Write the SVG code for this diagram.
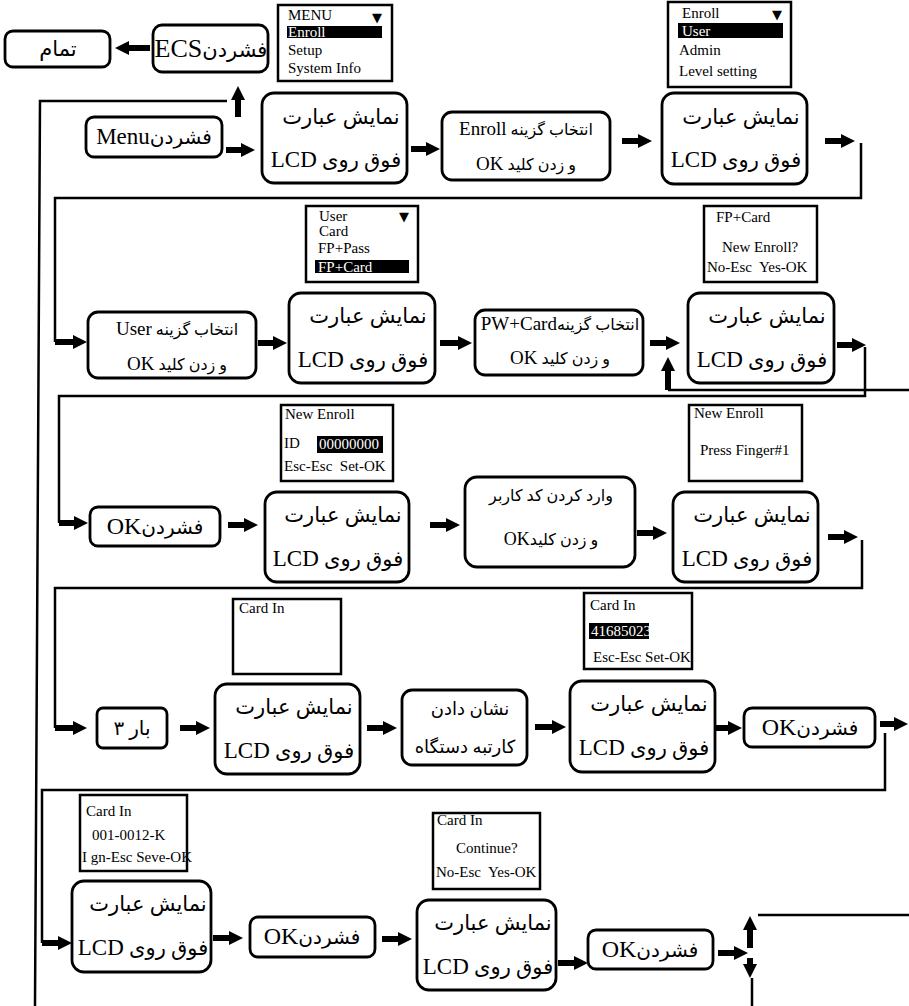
<svg xmlns="http://www.w3.org/2000/svg" width="909" height="1006" viewBox="0 0 909 1006">
<style>
.bx{fill:#fff;stroke:#000;stroke-width:2.8}
.sc{fill:#fff;stroke:#000;stroke-width:2.5}
.hl{fill:#000}
.ln{fill:none;stroke:#000;stroke-width:2.5}
.ar{fill:none;stroke:#000;stroke-width:6;marker-end:url(#ah)}
.fa{font-family:"Liberation Serif","DejaVu Sans",serif;direction:rtl;text-anchor:middle;fill:#000}
.big{font-size:21px}
.mid{font-size:16px}
.lt{font-size:19px}
.lc{font-family:"Liberation Serif",serif;font-size:15px;fill:#000}
.w{fill:#fff}
.tri{font-family:"DejaVu Sans",sans-serif;font-size:13px;fill:#000}
</style>
<defs>
<marker id="ah" markerUnits="userSpaceOnUse" markerWidth="14" markerHeight="14" viewBox="0 0 14 14" refX="2" refY="7" orient="auto"><path d="M0,0 L14,7 L0,14 z" fill="#000"/></marker>
</defs>
<g id="connectors">
<path class="ln" d="M227 101 H40 L35 1006"/>
<path class="ln" d="M861 143 V198 H55 V342"/>
<path class="ln" d="M865 347 V396 H59 V523"/>
<path class="ln" d="M909 390 H668"/>
<path class="ln" d="M862 540 V588 H55 V728"/>
<path class="ln" d="M885 733 V790 H42 V943"/>
<path class="ln" d="M752 978 V1006"/>
<path class="ln" d="M758 915 H909"/>
<path class="ar" d="M226 150 H243"/>
<path class="ar" d="M411 149 H428"/>
<path class="ar" d="M622 141 H640"/>
<path class="ar" d="M825 141 H843"/>
<path class="ar" d="M55 342 H75"/>
<path class="ar" d="M258 343 H275"/>
<path class="ar" d="M440 343 H460"/>
<path class="ar" d="M650 343 H668"/>
<path class="ar" d="M837 345 H854"/>
<path class="ar" d="M59 523 H76"/>
<path class="ar" d="M228 525 H246"/>
<path class="ar" d="M430 525 H448"/>
<path class="ar" d="M637 533 H655"/>
<path class="ar" d="M828 537 H846"/>
<path class="ar" d="M55 728 H75"/>
<path class="ar" d="M180 728 H198"/>
<path class="ar" d="M367 728 H385"/>
<path class="ar" d="M535 727 H554"/>
<path class="ar" d="M713 728 H730"/>
<path class="ar" d="M880 724 H896"/>
<path class="ar" d="M42 943 H60"/>
<path class="ar" d="M213 938 H231"/>
<path class="ar" d="M382 939 H400"/>
<path class="ar" d="M558 963 H576"/>
<path class="ar" d="M718 953 H736"/>
<path class="ar" d="M238 117 V98"/>
<path class="ar" d="M668 390 V369"/>
<path class="ar" d="M750 948 V928"/>
<path class="ar" d="M750 958 V966"/>
<path class="ar" d="M150 48 H127"/>
</g>
<g id="n-done"><rect class="bx" x="5" y="31" width="105" height="36" rx="8"/><text class="fa" x="58" y="56" font-size="21">تمام</text></g>
<g id="n-ecs"><rect class="bx" x="153" y="25" width="115" height="47" rx="9"/><text class="fa" x="211" y="57" font-size="21">فشردن<tspan font-size="26">ECS</tspan></text></g>
<g id="s-menu"><rect class="sc" x="278" y="5" width="114" height="76"/>
<text class="lc" x="288" y="20">MENU</text><text class="tri" x="372" y="22">▼</text>
<rect class="hl" x="287" y="26" width="95" height="12"/><text class="lc w" x="288" y="37">Enroll</text>
<text class="lc" x="288" y="55">Setup</text><text class="lc" x="288" y="73">System Info</text></g>
<g id="n-menu"><rect class="bx" x="86" y="117" width="136" height="40" rx="8"/><text class="fa" x="154" y="144" font-size="20">فشردن<tspan font-size="23">Menu</tspan></text></g>
<g id="n-lcd1"><rect class="bx" x="262" y="93" width="145" height="90" rx="12"/><text class="fa big" x="341" y="124">نمایش عبارت</text><text class="fa big" x="336" y="167">فوق روی <tspan font-size="23">LCD</tspan></text></g>
<g id="n-enroll"><rect class="bx" x="442" y="112" width="168" height="68" rx="10"/><text class="fa mid" x="526" y="135">انتخاب گزینه <tspan class="lt">Enroll</tspan></text><text class="fa mid" x="526" y="170">و زدن کلید <tspan class="lt">OK</tspan></text></g>
<g id="s-enroll"><rect class="sc" x="668" y="2" width="123" height="85"/>
<text class="lc" x="682" y="18" font-size="16.5">Enroll</text><text class="tri" x="772" y="19">▼</text>
<rect class="hl" x="678" y="23" width="105" height="15"/><text class="lc w" x="682" y="36" font-size="16.5">User</text>
<text class="lc" x="679" y="55" font-size="16.5">Admin</text><text class="lc" x="679" y="76" font-size="16.5">Level setting</text></g>
<g id="n-lcd2"><rect class="bx" x="662" y="93" width="145" height="91" rx="12"/><text class="fa big" x="741" y="124">نمایش عبارت</text><text class="fa big" x="736" y="167">فوق روی <tspan font-size="23">LCD</tspan></text></g>
<g id="n-user"><rect class="bx" x="88" y="312" width="168" height="66" rx="10"/><text class="fa mid" x="177" y="335">انتخاب گزینه <tspan class="lt">User</tspan></text><text class="fa mid" x="177" y="370">و زدن کلید <tspan class="lt">OK</tspan></text></g>
<g id="s-user"><rect class="sc" x="306" y="206" width="112" height="76"/>
<text class="lc" x="319" y="221">User</text><text class="tri" x="399" y="221">▼</text>
<text class="lc" x="319" y="236">Card</text><text class="lc" x="318" y="253">FP+Pass</text>
<rect class="hl" x="315" y="260" width="94" height="13"/><text class="lc w" x="318" y="272">FP+Card</text></g>
<g id="n-lcd3"><rect class="bx" x="289" y="293" width="146" height="90" rx="12"/><text class="fa big" x="368" y="323">نمایش عبارت</text><text class="fa big" x="363" y="367">فوق روی <tspan font-size="23">LCD</tspan></text></g>
<g id="n-pw"><rect class="bx" x="475" y="310" width="168" height="65" rx="10"/><text class="fa mid" x="560" y="330">انتخاب گزینه<tspan class="lt">PW+Card</tspan></text><text class="fa mid" x="560" y="364">و زدن کلید <tspan class="lt">OK</tspan></text></g>
<g id="s-new"><rect class="sc" x="704" y="206" width="113" height="76"/>
<text class="lc" x="716" y="222">FP+Card</text><text class="lc" x="722" y="252">New Enroll?</text>
<text class="lc" x="707" y="272" xml:space="preserve">No-Esc  Yes-OK</text></g>
<g id="n-lcd4"><rect class="bx" x="688" y="293" width="146" height="90" rx="12"/><text class="fa big" x="767" y="323">نمایش عبارت</text><text class="fa big" x="762" y="367">فوق روی <tspan font-size="23">LCD</tspan></text></g>
<g id="n-ok1"><rect class="bx" x="90" y="507" width="130" height="39" rx="8"/><text class="fa" x="155" y="534" font-size="20">فشردن<tspan font-size="24">OK</tspan></text></g>
<g id="s-id"><rect class="sc" x="281" y="405" width="112" height="76"/>
<text class="lc" x="285" y="419">New Enroll</text><text class="lc" x="284" y="448">ID</text>
<rect class="hl" x="317" y="436" width="66" height="17"/><text class="lc w" x="319" y="449">00000000</text>
<text class="lc" x="284" y="471" xml:space="preserve">Esc-Esc  Set-OK</text></g>
<g id="n-lcd5"><rect class="bx" x="265" y="492" width="144" height="90" rx="12"/><text class="fa big" x="343" y="522">نمایش عبارت</text><text class="fa big" x="338" y="566">فوق روی <tspan font-size="23">LCD</tspan></text></g>
<g id="n-code"><rect class="bx" x="465" y="477" width="170" height="90" rx="12"/><text class="fa" x="551" y="501" font-size="16">وارد کردن کد کاربر</text><text class="fa" x="551" y="545" font-size="16">و زدن کلید<tspan font-size="18">OK</tspan></text></g>
<g id="s-finger"><rect class="sc" x="689" y="405" width="113" height="76"/>
<text class="lc" x="694" y="418">New Enroll</text><text class="lc" x="700" y="455">Press Finger#1</text></g>
<g id="n-lcd6"><rect class="bx" x="673" y="492" width="145" height="90" rx="12"/><text class="fa big" x="752" y="522">نمایش عبارت</text><text class="fa big" x="747" y="566">فوق روی <tspan font-size="23">LCD</tspan></text></g>
<g id="n-3x"><rect class="bx" x="97" y="708" width="70" height="40" rx="6"/><text class="fa" x="132" y="735" font-size="20">بار ۳</text></g>
<g id="s-cardin"><rect class="sc" x="233" y="599" width="108" height="75"/><text class="lc" x="239" y="613">Card In</text></g>
<g id="n-lcd7"><rect class="bx" x="215" y="684" width="145" height="90" rx="12"/><text class="fa big" x="294" y="714">نمایش عبارت</text><text class="fa big" x="289" y="758">فوق روی <tspan font-size="23">LCD</tspan></text></g>
<g id="n-card"><rect class="bx" x="402" y="690" width="125" height="75" rx="10"/><text class="fa" x="470" y="715" font-size="18">نشان دادن</text><text class="fa" x="465" y="753" font-size="18">کارتبه دستگاه</text></g>
<g id="s-num"><rect class="sc" x="584" y="593" width="108" height="76"/>
<text class="lc" x="590" y="610" font-size="14.5">Card In</text>
<rect class="hl" x="589" y="623" width="60" height="16"/><text class="lc w" x="591" y="636" font-size="14">41685023</text>
<text class="lc" x="593" y="662" font-size="14">Esc-Esc Set-OK</text></g>
<g id="n-lcd8"><rect class="bx" x="570" y="681" width="145" height="91" rx="12"/><text class="fa big" x="649" y="711">نمایش عبارت</text><text class="fa big" x="644" y="755">فوق روی <tspan font-size="23">LCD</tspan></text></g>
<g id="n-ok2"><rect class="bx" x="744" y="708" width="131" height="39" rx="8"/><text class="fa" x="810" y="735" font-size="20">فشردن<tspan font-size="24">OK</tspan></text></g>
<g id="s-save"><rect class="sc" x="80" y="795" width="107" height="76"/>
<text class="lc" x="86" y="816" font-size="14.5">Card In</text><text class="lc" x="92" y="840" font-size="14.5">001-0012-K</text>
<text class="lc" x="82" y="862" font-size="14">I gn-Esc Seve-OK</text></g>
<g id="n-lcd9"><rect class="bx" x="72" y="881" width="139" height="91" rx="12"/><text class="fa big" x="148" y="911">نمایش عبارت</text><text class="fa big" x="143" y="955">فوق روی <tspan font-size="23">LCD</tspan></text></g>
<g id="n-ok3"><rect class="bx" x="250" y="917" width="125" height="40" rx="8"/><text class="fa" x="312" y="944" font-size="20">فشردن<tspan font-size="24">OK</tspan></text></g>
<g id="s-cont"><rect class="sc" x="433" y="813" width="107" height="76"/>
<text class="lc" x="437" y="825" font-size="14.5">Card In</text><text class="lc" x="456" y="853" font-size="14.5">Continue?</text>
<text class="lc" x="436" y="877" font-size="14.5" xml:space="preserve">No-Esc  Yes-OK</text></g>
<g id="n-lcd10"><rect class="bx" x="417" y="900" width="139" height="90" rx="12"/><text class="fa big" x="493" y="930">نمایش عبارت</text><text class="fa big" x="488" y="974">فوق روی <tspan font-size="23">LCD</tspan></text></g>
<g id="n-ok4"><rect class="bx" x="588" y="930" width="125" height="39" rx="8"/><text class="fa" x="650" y="957" font-size="20">فشردن<tspan font-size="24">OK</tspan></text></g>
</svg>
